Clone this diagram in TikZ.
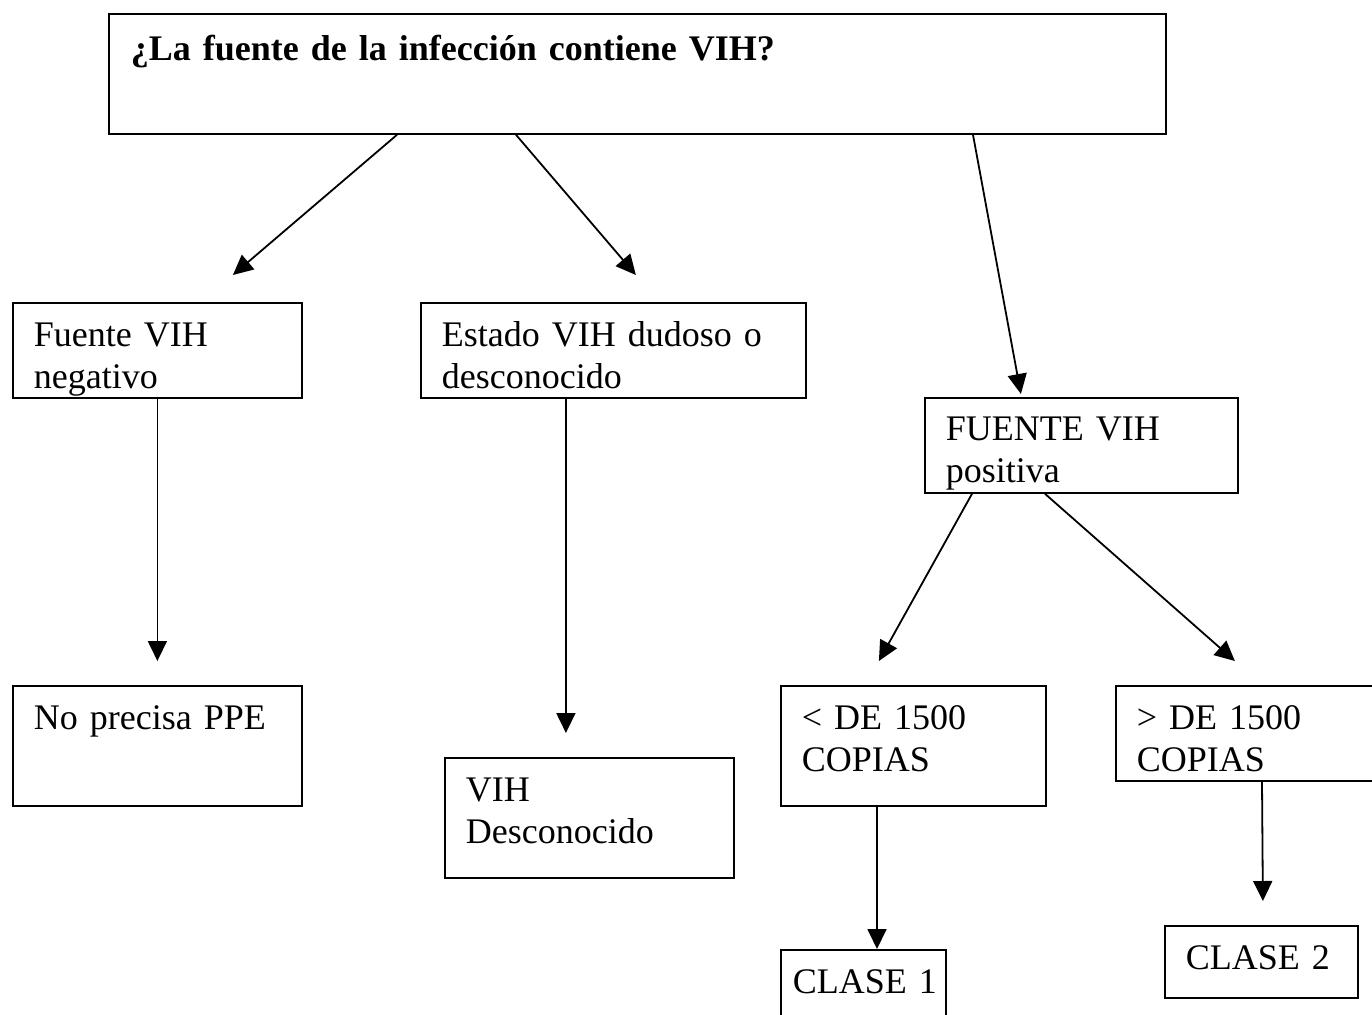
\documentclass[tikz,border=0pt]{standalone}
\usepackage{fontspec}
\setmainfont{Liberation Serif}
\usetikzlibrary{arrows.meta}

\begin{document}
\begin{tikzpicture}[
    x=0.5pt, y=-0.5pt,
    >={Triangle[length=10pt, width=9.5pt]},
    caja/.style={draw, line width=0.9pt, rectangle, anchor=north west, align=left,
        inner xsep=10.5pt, inner ysep=0pt, font=\fontsize{18}{21}\selectfont},
    flecha/.style={->, line width=0.9pt}
]
\useasboundingbox (0,0) rectangle (1372,1014);
\clip (0,0) rectangle (1372,1014);

% Arriba: la pregunta
\node[caja, inner xsep=11pt, text width=506.5pt, text height=23.5pt, text depth=36.5pt,
      font=\fontsize{18}{21}\selectfont\bfseries] (fuente) at (108,13) {
    ¿La fuente de la infección contiene VIH?
};

% Segundo nivel
\node[caja, text width=123.5pt, text height=22pt, text depth=25.5pt] (negativo) at (12,302) {
    Fuente VIH\\negativo
};
\node[caja, text width=171.5pt, text height=22pt, text depth=25.5pt] (dudoso) at (420,302) {
    Estado VIH dudoso o\\desconocido
};
\node[caja, text width=135.5pt, text height=21.5pt, text depth=26pt] (positiva) at (924,397) {
    FUENTE VIH\\positiva
};
\draw[flecha] ([shift={(289,0)}]fuente.south west) -- ([shift={(75.5,-27)}]negativo.north);
\draw[flecha] ([shift={(408,0)}]fuente.south west) -- ([shift={(22.5,-27)}]dudoso.north);
\draw[flecha] ([shift={(865,0)}]fuente.south west) -- ([shift={(-60.5,-3)}]positiva.north);

% Tercer nivel
\node[caja, text width=123.5pt, text height=22pt, text depth=38pt] (noppe) at (12,685) {
    No precisa PPE
};
\node[caja, text width=123.5pt, text height=22pt, text depth=38pt] (desconocido) at (444,757) {
    VIH\\Desconocido
};
\node[caja, text width=111.5pt, text height=22pt, text depth=38pt] (menos) at (780,685) {
    < DE 1500\\COPIAS
};
\node[caja, text width=107.5pt, text height=22pt, text depth=25.5pt] (mas) at (1115,685) {
    > DE 1500\\COPIAS
};
\draw[flecha] (negativo.south) -- ([shift={(0,-24)}]noppe.north);
\draw[flecha] ([shift={(146,0)}]dudoso.south west) -- ([shift={(-23.5,-24)}]desconocido.north);
\draw[flecha] ([shift={(48,0)}]positiva.south west) -- ([shift={(-34.5,-24)}]menos.north);
\draw[flecha] ([shift={(121,0)}]positiva.south west) -- ([shift={(-9.5,-24)}]mas.north);

% Clases
\node[caja, inner xsep=6pt, text width=70.5pt, text height=22pt, text depth=18pt] (clase1) at (780,949) {
    CLASE~1
};
\node[caja, text width=75.5pt, text height=22pt, text depth=14pt] (clase2) at (1164,925) {
    CLASE 2
};
\draw[flecha] ([shift={(97,0)}]menos.south west) -- ([shift={(97,0)}]clase1.north west);
\draw[flecha] ([shift={(147,0)}]mas.south west) -- ([shift={(1.5,-24)}]clase2.north);

\end{tikzpicture}
\end{document}
